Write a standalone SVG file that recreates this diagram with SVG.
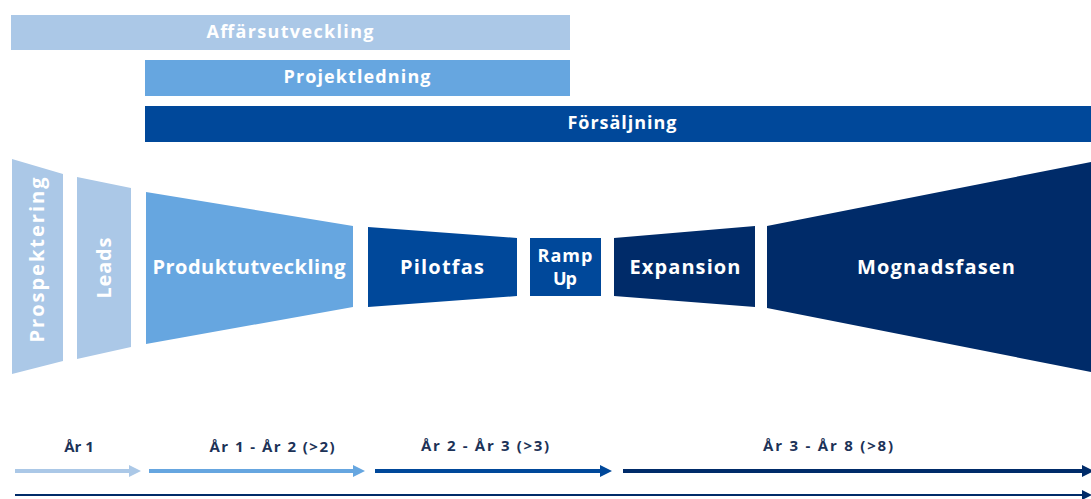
<svg xmlns="http://www.w3.org/2000/svg" width="1091" height="499" viewBox="0 0 1091 499">
<style>
.lbl{font-family:"Open Sans","Liberation Sans",Arial,sans-serif;font-weight:bold;fill:#ffffff;text-anchor:middle}
.bar{font-size:18px}
.big{font-size:20px}
.yr{font-family:"Open Sans","Liberation Sans",Arial,sans-serif;font-weight:bold;font-size:15px;fill:#1c3257;text-anchor:middle}
.c1{fill:#abc8e7}.c2{fill:#66a6e0}.c3{fill:#00489a}.c4{fill:#002b69}
</style>
<defs>
<marker id="h1" viewBox="0 0 10 10" refX="0" refY="5" markerWidth="3" markerHeight="3" orient="auto" markerUnits="strokeWidth"><path d="M0,0L10,5L0,10z" fill="#abc8e7"/></marker>
<marker id="h2" viewBox="0 0 10 10" refX="0" refY="5" markerWidth="3" markerHeight="3" orient="auto" markerUnits="strokeWidth"><path d="M0,0L10,5L0,10z" fill="#66a6e0"/></marker>
<marker id="h3" viewBox="0 0 10 10" refX="0" refY="5" markerWidth="3" markerHeight="3" orient="auto" markerUnits="strokeWidth"><path d="M0,0L10,5L0,10z" fill="#00489a"/></marker>
<marker id="h4" viewBox="0 0 10 10" refX="0" refY="5" markerWidth="3" markerHeight="3" orient="auto" markerUnits="strokeWidth"><path d="M0,0L10,5L0,10z" fill="#002b69"/></marker>
<marker id="h5" viewBox="0 0 10 10" refX="0" refY="5" markerWidth="5" markerHeight="5" orient="auto" markerUnits="strokeWidth"><path d="M0,0L10,5L0,10z" fill="#002b69"/></marker>
</defs>
<rect width="1091" height="499" fill="#ffffff"/>

<g id="affarsutveckling">
<rect class="c1" x="11" y="15" width="559" height="35"/>
<text class="lbl bar" x="290" y="38" textLength="167">Affärsutveckling</text>
</g>
<g id="projektledning">
<rect class="c2" x="145" y="60" width="425" height="36"/>
<text class="lbl bar" x="357" y="83" textLength="147">Projektledning</text>
</g>
<g id="forsaljning">
<rect class="c3" x="145" y="106" width="946" height="36"/>
<text class="lbl bar" x="622" y="129" textLength="109">Försäljning</text>
</g>

<g id="prospektering">
<polygon class="c1" points="12,159 63,174 63,361 12,374"/>
<text class="lbl big" transform="translate(44,260) rotate(-90)" x="0" y="0" textLength="165">Prospektering</text>
</g>
<g id="leads">
<polygon class="c1" points="77,177 131,188 131,347 77,359"/>
<text class="lbl big" transform="translate(111,268) rotate(-90)" x="0" y="0" textLength="61">Leads</text>
</g>
<g id="produktutveckling">
<polygon class="c2" points="146,192 353,226 353,307 146,344"/>
<text class="lbl big" x="249" y="274" textLength="193">Produktutveckling</text>
</g>
<g id="pilotfas">
<polygon class="c3" points="368,227 517,238 517,296 368,307"/>
<text class="lbl big" x="442" y="274" textLength="84">Pilotfas</text>
</g>
<g id="rampup">
<rect class="c3" x="530" y="238" width="71" height="58"/>
<text class="lbl" style="font-size:18px" x="565" y="262" textLength="55">Ramp</text>
<text class="lbl" style="font-size:18px" x="565" y="285" textLength="24">Up</text>
</g>
<g id="expansion">
<polygon class="c4" points="614,238 755,226 755,307 614,296"/>
<text class="lbl big" x="685" y="274" textLength="111">Expansion</text>
</g>
<g id="mognadsfasen">
<polygon class="c4" points="767,226 1091,162 1091,372 767,308"/>
<text class="lbl big" x="936" y="274" textLength="158">Mognadsfasen</text>
</g>

<g id="labels">
<text class="yr" x="79" y="452">År 1</text>
<text class="yr" x="272" y="452" textLength="125">År 1 - År 2 (&gt;2)</text>
<text class="yr" x="485" y="451" textLength="128">År 2 - År 3 (&gt;3)</text>
<text class="yr" x="828" y="451" textLength="130">År 3 - År 8 (&gt;8)</text>
</g>

<g id="connectors" fill="none">
<line x1="15" y1="471" x2="129" y2="471" stroke="#abc8e7" stroke-width="4" marker-end="url(#h1)"/>
<line x1="149" y1="471" x2="353" y2="471" stroke="#66a6e0" stroke-width="4" marker-end="url(#h2)"/>
<line x1="375" y1="471" x2="600" y2="471" stroke="#00489a" stroke-width="4" marker-end="url(#h3)"/>
<line x1="623" y1="471" x2="1082" y2="471" stroke="#002b69" stroke-width="4" marker-end="url(#h4)"/>
<line x1="15" y1="495" x2="1082" y2="495" stroke="#002b69" stroke-width="2" marker-end="url(#h5)"/>
</g>
</svg>
